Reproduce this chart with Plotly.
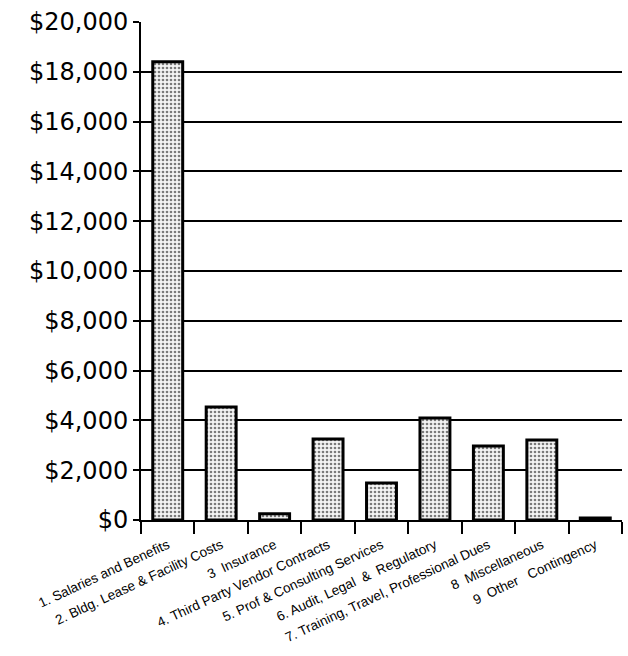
import plotly.graph_objects as go

categories = [
    "1. Salaries and Benefits",
    "2. Bldg. Lease &amp; Facility Costs",
    "3  Insurance",
    "4. Third Party Vendor Contracts",
    "5. Prof &amp; Consulting Services",
    "6. Audit, Legal  &amp;  Regulatory",
    "7. Training, Travel, Professional Dues",
    "8  Miscellaneous",
    "9  Other   Contingency",
]
values = [18400, 4540, 250, 3250, 1490, 4100, 2970, 3210, 80]
tick_vals = [0, 2000, 4000, 6000, 8000, 10000, 12000, 14000, 16000, 18000, 20000]
tick_text = ["$0", "$2,000", "$4,000", "$6,000", "$8,000", "$10,000",
             "$12,000", "$14,000", "$16,000", "$18,000", "$20,000"]

fig = go.Figure(go.Bar(
    x=categories,
    y=values,
    width=0.56,
    marker=dict(
        color="white",
        line=dict(color="black", width=3),
        pattern=dict(shape=".", fgcolor="black", bgcolor="#f4f4f4", size=4, solidity=0.35),
    ),
))

fig.update_layout(
    width=628, height=656,
    margin=dict(l=141, r=6, t=22, b=136),
    paper_bgcolor="white", plot_bgcolor="white",
    showlegend=False,
    font=dict(family="DejaVu Sans", color="black"),
    bargap=0.44,
)
fig.update_yaxes(
    range=[0, 20000],
    tickvals=tick_vals, ticktext=tick_text,
    tickfont=dict(size=24, family="DejaVu Sans", color="black"),
    ticks="outside", ticklen=6, tickcolor="black", tickwidth=1.5,
    showgrid=True, gridcolor="black", gridwidth=1.5,
    showline=True, linecolor="black", linewidth=2,
    zeroline=False,
)
fig.update_xaxes(
    tickangle=-25,
    tickfont=dict(size=13.5, family="Liberation Sans", color="black"),
    ticks="outside", ticklen=12, tickcolor="black", tickwidth=1.5,
    tickson="boundaries",
    ticklabelstandoff=10,
    showline=True, linecolor="black", linewidth=2,
    showgrid=False,
)

fig.write_html("out.html")
